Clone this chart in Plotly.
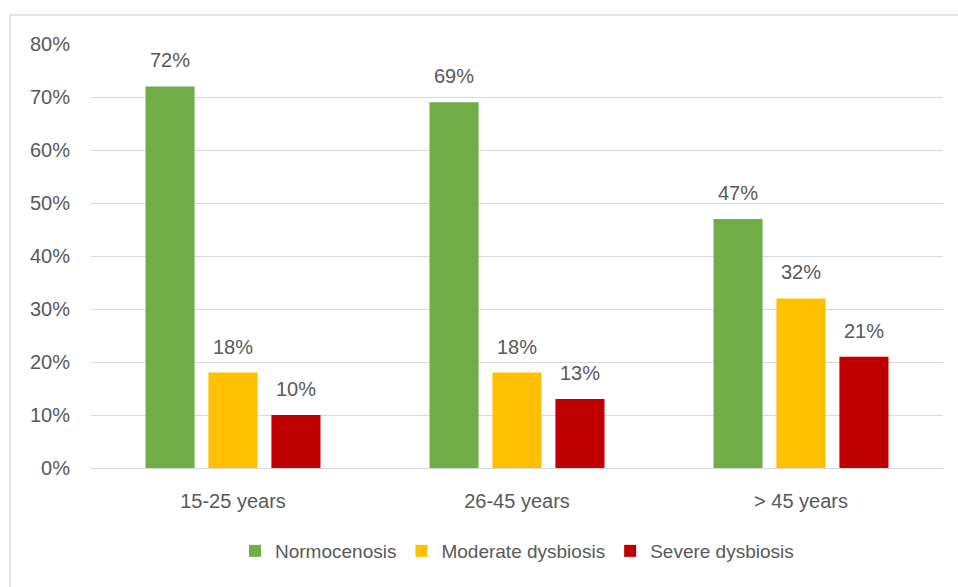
import plotly.graph_objects as go

categories = ["15-25 years", "26-45 years", "> 45 years"]
normocenosis = [72, 69, 47]
moderate = [18, 18, 32]
severe = [10, 13, 21]
series_names = ["Normocenosis", "Moderate dysbiosis", "Severe dysbiosis"]
colors = ["#70AD47", "#FFC000", "#C00000"]
y_ticks = [0, 10, 20, 30, 40, 50, 60, 70, 80]

FONT = "Liberation Sans"
TXT = "#595959"
BARGAP = 0.335
series_vals = [normocenosis, moderate, severe]

fig = go.Figure()
for name, vals, col in zip(series_names, series_vals, colors):
    fig.add_trace(go.Bar(
        x=categories, y=vals, name=name,
        marker=dict(color=col, line=dict(width=0)),
    ))

# value labels above each bar, centred on the bar's slot within its group
slot = (1 - BARGAP) / len(series_vals)
annotations = []
for k, vals in enumerate(series_vals):
    off = (k - (len(series_vals) - 1) / 2) * slot
    for i, v in enumerate(vals):
        annotations.append(dict(
            x=i + off, y=v, xref="x", yref="y", text=f"{v}%",
            showarrow=False, yanchor="bottom", yshift=13,
            font=dict(family=FONT, size=20, color=TXT),
        ))

W, H = 958, 587
L, R, T, B = 91, 15, 44, 119
pw, ph = W - L - R, H - T - B

fig.update_layout(
    width=W, height=H,
    margin=dict(l=L, r=R, t=T, b=B),
    paper_bgcolor="white", plot_bgcolor="white",
    barmode="group", bargap=BARGAP, bargroupgap=0.22,
    font=dict(family=FONT, size=20, color=TXT),
    showlegend=True,
    legend=dict(orientation="h", x=0.5, xanchor="center", y=(468 - 551) / ph,
                yanchor="middle", font=dict(family=FONT, size=19, color=TXT),
                itemwidth=30, traceorder="normal"),
    xaxis=dict(showgrid=False, showline=False, ticks="", ticklabelstandoff=19,
               tickfont=dict(family=FONT, size=20, color=TXT)),
    yaxis=dict(range=[0, 80], tickvals=y_ticks, ticktext=[f"{v}%" for v in y_ticks],
               showgrid=True, gridcolor="#D9D9D9", gridwidth=1,
               zeroline=True, zerolinecolor="#D9D9D9", zerolinewidth=1,
               showline=False, ticks="", ticklabelstandoff=20,
               tickfont=dict(family=FONT, size=20, color=TXT)),
    annotations=annotations,
    shapes=[dict(type="rect", xref="paper", yref="paper",
                 x0=(10 - L) / pw, x1=(W + 5 - L) / pw,
                 y0=-(H + 5 - (T + ph)) / ph, y1=1 + (T - 15) / ph,
                 line=dict(color="#D9D9D9", width=1.5), fillcolor="rgba(0,0,0,0)",
                 layer="below")],
)

fig.write_html("out.html")
